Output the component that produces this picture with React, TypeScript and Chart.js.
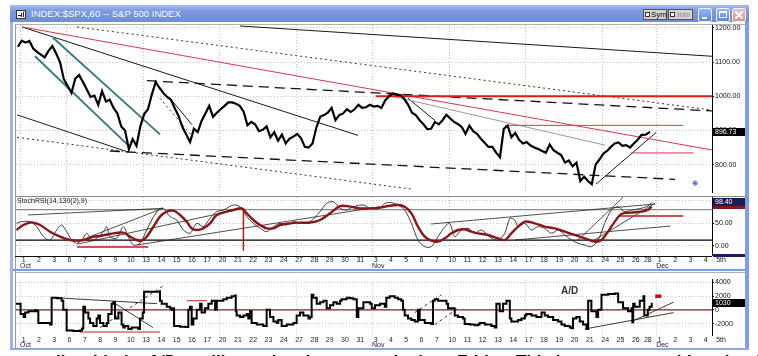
import React, { useEffect, useRef } from "react";
import { Chart, registerables } from "chart.js";

Chart.register(...registerables);

const FONT = '"Liberation Sans", Arial, Helvetica, sans-serif';

// ---------- time axis (trading sessions Oct 1 – Nov 28 2008, then empty Dec days) ----------
const dayLabels = ["1","2","3","6","7","8","9","10","13","14","15","16","17","20","21","22","23","24","27","28","29","30","31","3","4","5","6","7","10","11","12","13","14","17","18","19","20","21","24","25","26","28","1","2","3","4","5th"];
const monthNames = ["Oct", "Nov", "Dec"];
const monthStartIndex = [0, 23, 42];
const fullSessionHours = 7;
const halfSessionIndex = 41; // Nov 28 half session
const halfSessionHours = 4;
const weeklyGridDays = [0, 3, 8, 13, 18, 23, 28, 33, 38, 42];
const lastVisibleDay = 45.91;
const tradedDays = 42;

// ---------- price (S&P 500, 60 min) : 4 readings per session, 2 on the half session ----------
const priceClose = [
  1145, 1163, 1157, 1162,
  1140, 1130, 1122, 1114,
  1133, 1147, 1125, 1100,
  1050, 1030, 1010, 1052,
  1062, 1042, 1020, 998,
  1002, 975, 1015, 985,
  990, 966, 950, 912,
  900, 845, 875, 855,
  912, 948, 962, 1005,
  1042, 1025, 1010, 998,
  990, 965, 942, 910,
  888, 866, 905, 895,
  928, 950, 972, 940,
  952, 962, 972, 982,
  982, 978, 972, 955,
  915, 925, 918, 898,
  902, 912, 880, 895,
  870, 888, 862, 876,
  882, 890, 878, 852,
  850, 862, 908, 940,
  945, 952, 966, 930,
  945, 950, 962, 954,
  962, 975, 966, 968,
  975, 970, 972, 966,
  988, 1000, 1008, 1005,
  1003, 992, 975, 952,
  945, 930, 918, 904,
  905, 925, 918, 930,
  946, 935, 925, 919,
  910, 890, 914, 898,
  890, 876, 864, 852,
  852, 835, 822, 905,
  914, 880, 893, 873,
  862, 866, 856, 850,
  846, 840, 835, 859,
  842, 835, 828, 806,
  812, 795, 806, 752,
  765, 752, 743, 800,
  815, 832, 840, 852,
  862, 865, 855, 857,
  850, 862, 873, 887,
  888, 896,
];
const priceReadingsPerSession = 4;
const priceReadingsHalfSession = 2;
const priceTicks = [800, 900, 1000, 1100, 1200];
const priceMin = 720;
const priceMax = 1208.6;
const lastPrice = 896.73;

// trendlines on price panel: [day1, price1, day2, price2]
const priceBlackLines = [
  [14.64, 1205.7, 45.92, 1117.1],
  [0.39, 1202.9, 22.35, 885.7],
  [0.07, 945.7, 7.32, 837.1],
  [37.9, 742.9, 42.26, 894.3],
  [25.62, 994.3, 27.39, 928.6],
  [10.07, 994, 11.5, 917],
];
const priceRedLines = [
  [0.39, 1202.9, 45.92, 842.9],
  [31.96, 915, 44.03, 915],
  [40.2, 834.3, 44.7, 834.3],
];
const priceRedLevel = [[23.5, 1000, 45.92, 1000]];
const priceGrayLines = [[24.31, 1002.9, 38.5, 857]];
const priceDashedLines = [
  [8.56, 1045.7, 45.92, 957.1],
  [6.14, 840, 43.5, 757],
];
const priceDottedLines = [
  [3.99, 1202.9, 45.85, 960],
  [0.07, 880, 25.82, 728.6],
  [9.41, 994, 11.57, 880],
];
const priceChannelLines = [
  [2.42, 1171.4, 9.41, 888.6],
  [1.24, 1117.1, 7.32, 857.1],
];
const priceStar = [44.81, 745.7];

// ---------- StochRSI(14,130(2),9) ----------
const stochSlowDays = [0.04,0.48,1.02,1.57,2.22,2.88,3.53,4.07,4.62,5.05,5.49,6.14,7.01,7.45,7.89,8.21,8.54,8.98,9.41,9.85,10.28,10.72,11.15,11.48,11.81,12.24,12.68,13.12,13.77,14.2,14.75,15.08,15.51,15.95,16.38,16.82,17.25,17.91,18.56,19.22,19.87,20.52,21.18,21.83,22.48,23.14,23.79,24.31,24.97,25.4,25.84,26.27,26.71,27.14,27.58,28.02,28.45,28.89,29.32,29.76,30.19,30.85,31.5,31.94,32.37,32.81,33.25,33.9,34.55,35.21,35.86,36.51,37.17,37.82,38.26,38.69,39.13,39.56,40.22,40.87,41.5,41.95];
const stochSlowValues = [35.3,46.3,52.2,46.3,31.6,20.6,13.2,11.8,14.7,20.6,22.1,26.5,29.4,20.6,13.2,11.8,20.6,42.7,64.7,75.7,77.9,68.4,53.7,39.0,35.3,39.0,50.0,68.4,75.7,79.4,83.1,72.1,57.4,46.3,39.0,39.0,46.3,50.0,51.5,51.5,57.4,72.1,88.2,86.8,83.1,83.1,84.6,88.2,90.4,86.8,72.1,42.7,20.6,11.8,9.6,16.9,27.9,35.3,36.8,31.6,27.9,24.3,16.9,13.2,27.9,42.7,53.7,50.0,42.7,39.0,31.6,24.3,16.9,9.6,13.2,31.6,53.7,70.6,73.5,75.7,79.4,86.8];
const stochFastDays = [0.04,0.37,0.92,1.35,1.79,2.22,2.66,2.98,3.31,3.64,3.97,4.29,4.62,4.95,5.27,5.71,5.93,6.14,6.58,7.01,7.34,7.67,8.1,8.54,8.87,9.3,9.63,10.07,10.5,10.94,11.37,11.81,12.24,12.68,13.12,13.55,14.2,14.64,15.08,15.51,15.95,16.38,16.82,17.25,17.69,18.13,18.56,19.22,19.87,20.3,20.74,21.18,21.61,22.05,22.7,23.14,23.79,24.1,24.53,24.97,25.4,25.84,26.27,26.71,27.14,27.58,28.02,28.34,28.67,29.1,29.54,29.98,30.41,31.07,31.5,31.94,32.27,32.59,32.81,33.25,33.68,34.12,34.55,34.99,35.42,35.86,36.3,36.73,37.17,37.6,38.04,38.47,38.91,39.35,39.78,40.22,40.87,41.5,41.95];
const stochFastValues = [50.0,53.7,53.7,42.7,20.6,13.2,35.3,46.3,31.6,13.2,5.9,13.2,27.9,13.2,16.9,31.6,42.7,20.6,16.9,42.7,20.6,2.2,5.9,35.3,57.4,79.4,83.1,64.7,57.4,35.3,27.9,50.0,42.7,61.0,75.7,79.4,90.4,86.8,64.7,50.0,39.0,31.6,42.7,50.0,46.3,53.7,50.0,53.7,75.7,94.1,97.8,83.1,79.4,86.8,90.4,83.1,83.1,94.1,95.6,90.4,79.4,50.0,13.2,-1.5,-1.5,20.6,42.7,50.0,20.6,35.3,39.0,27.9,35.3,16.9,13.2,27.9,61.0,57.4,42.7,50.0,35.3,42.7,39.0,27.9,35.3,24.3,13.2,5.9,2.2,-1.5,13.2,50.0,79.4,86.8,75.7,79.4,83.1,88.2,96.0];
const stochTicks = [0, 50, 100];
const stochLevels = [80, 13];
const stochMin = -19.9;
const stochMax = 108.1;
const lastStoch = 98.4;
const stochBlackLines = [
  [0.78, 68.4, 9.61, 83.2],
  [3.99, 9.5, 9.61, 83.2],
  [4.0, 4, 14.86, 83],
  [7.91, 2.2, 23.79, 86.7],
  [27.12, 48.5, 42.2, 92.7],
  [32.61, 13.2, 43.2, 44.1],
  [36.73, 13.2, 39.67, 107.4],
  [37.82, 13.2, 42.17, 94.2],
];
const stochRedLines = [
  [3.99, -2.2, 8.63, -2.2],
  [14.86, 83.8, 14.86, -10.4],
  [39.35, 66.2, 44.03, 66.2],
];

// ---------- A/D ----------
const adDays = [0.0,0.3,0.5,0.6,0.81,1.24,1.35,1.46,2.0,2.22,2.33,2.66,2.98,3.09,3.31,3.75,4.18,4.31,4.4,4.51,4.73,4.84,5.05,5.27,5.38,5.49,5.71,5.93,6.03,6.25,6.36,6.47,6.69,6.9,7.01,7.12,7.34,7.56,7.89,7.99,8.1,8.28,8.37,8.76,9.19,9.37,9.41,9.52,9.85,10.07,10.17,10.28,10.33,10.72,11.05,11.26,11.37,11.48,11.59,11.81,12.03,12.13,12.35,12.57,12.79,13.01,13.12,13.33,13.55,13.77,14.09,14.31,14.36,14.42,14.64,14.86,15.08,15.18,15.29,15.4,15.73,16.16,16.38,16.6,16.82,17.04,17.14,17.36,17.69,18.13,18.34,18.56,18.78,19.11,19.22,19.32,19.43,19.65,19.87,20.09,20.3,20.52,20.74,20.96,21.18,21.28,21.61,21.83,22.05,22.27,22.37,22.7,23.03,23.14,23.25,23.46,23.79,24.1,24.2,24.42,24.75,24.97,25.18,25.29,25.4,25.62,25.84,26.06,26.27,26.38,26.71,27.14,27.25,27.36,27.58,27.91,28.13,28.23,28.67,28.89,29.21,29.32,29.65,29.98,30.19,30.3,30.63,31.07,31.28,31.39,31.61,31.83,32.05,32.27,32.37,32.81,33.03,33.25,33.35,33.68,34.01,34.34,34.55,34.77,35.1,35.42,35.64,35.86,36.19,36.3,36.4,36.62,36.84,37.06,37.28,37.39,37.6,37.93,38.04,38.26,38.37,38.69,39.13,39.35,39.67,40.0,40.22,40.28,40.33,40.43,40.76,41.0,41.1,41.5,41.7,41.95];
const adValues = [900,-610,-1040,-390,-174,-44,-174,-1914,-1914,-2132,1784,1697,1348,44,-3001,-3088,-3001,-2697,478,-392,-1262,-1914,-2349,-1262,-826,-1914,-2349,-1914,-609,914,1131,-1262,-392,-2132,-2566,-2349,-2784,-2566,-2566,-2784,-1262,-392,2654,2654,2654,2741,1348,914,479,261,44,261,-2349,-2436,-2479,44,479,-2132,-1262,44,914,-392,261,914,1348,44,1348,1348,1566,1784,2001,2088,-174,-826,-1044,-826,-609,-1262,-174,-1914,-2132,-2349,44,-1044,-1697,-1914,-1479,-2349,-2132,-1914,-826,-392,-826,-1262,-1044,2218,1784,914,1131,1348,261,696,1131,914,1348,1566,1784,1697,1566,-1044,261,1131,1131,914,261,696,914,479,1784,2001,1784,1566,1348,44,-826,-1262,-1479,-1697,44,-1479,-1914,-2045,1348,1566,1348,1348,914,261,-826,-1044,-1262,-2045,-2132,-2220,-2132,-1914,-2132,-2349,-2566,914,-174,914,1348,-1262,-1697,-1479,-1262,-826,-609,-826,-1044,-392,-826,-1044,-1479,-1697,-2132,-2349,-2566,-2653,-1262,-1044,-1697,-2132,-2784,1348,-174,-1044,44,2218,2218,2305,2392,1131,261,-174,261,-1800,914,479,1348,2001,-826,44,479,1030];
const adTicks = [-2000, 0, 2000, 4000];
const adMin = -3654;
const adMax = 4437;
const lastAD = 1030;
const adBlackLines = [
  [2.55, 1788, 9.22, 914],
  [6.34, 1135, 8.95, -2571],
  [37.17, -2780, 43.4, -392],
  [40.22, -1697, 43.4, 1135],
];
const adDashedLines = [
  [5.49, -2571, 9.63, 3524],
  [26.06, -392, 27.8, 2219],
  [27.37, -2127, 28.89, 261],
];
const adRedLines = [
  [4.18, -3223, 9.41, -3223],
  [11.18, 1344, 12.48, 1344],
];
const adMarker = [42.4, 2000];

// ---------- helpers ----------
const dayHours = dayLabels.map((_, i) => (i === halfSessionIndex ? halfSessionHours : fullSessionHours));
const dayStart: number[] = [];
dayHours.reduce((acc, h, i) => { dayStart[i] = acc; return acc + h; }, 0);

function dayToHours(d: number) {
  let i = Math.floor(d);
  if (i < 0) i = 0;
  if (i > dayLabels.length - 1) i = dayLabels.length - 1;
  return dayStart[i] + (d - i) * dayHours[i];
}
const X_MAX = dayToHours(lastVisibleDay);

function pricePoints() {
  const pts: any[] = [];
  let p = 0;
  for (let i = 0; i < tradedDays; i++) {
    const n = i === halfSessionIndex ? priceReadingsHalfSession : priceReadingsPerSession;
    for (let k = 0; k < n && p < priceClose.length; k++) {
      pts.push({ x: dayStart[i] + ((k + 0.5) * dayHours[i]) / n, y: priceClose[p++] });
    }
  }
  return pts;
}
function zipPoints(days: number[], vals: number[]) {
  const n = Math.min(days.length, vals.length);
  const out: any[] = [];
  for (let i = 0; i < n; i++) out.push({ x: dayToHours(days[i]), y: vals[i] });
  return out;
}
function segs(list: number[][], color: string, width: number, dash: number[] = []) {
  return list.map((s) => ({
    data: [{ x: dayToHours(s[0]), y: s[1] }, { x: dayToHours(s[2]), y: s[3] }],
    borderColor: color,
    borderWidth: width,
    borderDash: dash,
    pointRadius: 0,
    fill: false,
    order: 5,
  }));
}
function levels(vals: number[], colors: string[], widths: number[]) {
  return vals.map((v, i) => ({
    data: [{ x: 0, y: v }, { x: X_MAX + 10, y: v }],
    borderColor: colors[i],
    borderWidth: widths[i],
    pointRadius: 0,
    fill: false,
    order: 6,
  }));
}

const dateRowPlugin = {
  id: "dateRow",
  afterDraw(chart: any, _a: any, opts: any) {
    if (!opts || !opts.show) return;
    const xs = chart.scales.x;
    const ca = chart.chartArea;
    const ctx = chart.ctx;
    ctx.save();
    ctx.font = `7px ${FONT}`;
    ctx.fillStyle = "#222";
    ctx.textBaseline = "middle";
    ctx.textAlign = "center";
    dayLabels.forEach((lab, i) => {
      ctx.fillText(lab, xs.getPixelForValue(dayStart[i] + dayHours[i] / 2), ca.bottom + opts.dy);
    });
    ctx.textAlign = "left";
    monthNames.forEach((m, j) => {
      ctx.fillText(m, xs.getPixelForValue(dayStart[monthStartIndex[j]]) + 4, ca.bottom + opts.dy + opts.monthDy);
    });
    ctx.restore();
  },
};

const valueBoxPlugin = {
  id: "valueBox",
  afterDraw(chart: any, _a: any, opts: any) {
    if (!opts || opts.text == null) return;
    const ys = chart.scales.y;
    const ca = chart.chartArea;
    const ctx = chart.ctx;
    const h = 8;
    let y = ys.getPixelForValue(opts.value);
    y = Math.max(ca.top + h / 2 + 1, Math.min(ca.bottom - h / 2, y));
    const x0 = ca.right + 1;
    const w = opts.right - x0;
    ctx.save();
    ctx.fillStyle = opts.bg;
    ctx.fillRect(x0, Math.round(y - h / 2), w, h);
    if (opts.under) {
      ctx.fillStyle = opts.under;
      ctx.fillRect(x0, Math.round(y + h / 2), w, 3);
    }
    ctx.fillStyle = "#fff";
    ctx.font = `7px ${FONT}`;
    ctx.textAlign = "left";
    ctx.textBaseline = "middle";
    ctx.fillText(opts.text, x0 + 2, Math.round(y) + 0.5);
    ctx.restore();
  },
};

function xScale() {
  return {
    type: "linear",
    min: 0,
    max: X_MAX,
    offset: false,
    afterBuildTicks: (s: any) => {
      s.ticks = weeklyGridDays.map((d) => ({ value: dayToHours(d + 0.3) }));
    },
    afterFit: (s: any) => {
      s.height = 0;
      s.paddingLeft = 0;
      s.paddingRight = 0;
    },
    ticks: { display: false },
    grid: { color: "#c2c2c2", lineWidth: 1, drawTicks: false },
    border: { display: false, dash: [1, 2] },
  };
}
function yScale(min: number, max: number, ticks: number[], fmt: (v: number) => string) {
  return {
    position: "right",
    min,
    max,
    afterBuildTicks: (s: any) => {
      s.ticks = ticks.map((v) => ({ value: v }));
    },
    afterFit: (s: any) => {
      s.width = 33;
      s.paddingTop = 0;
      s.paddingBottom = 0;
    },
    ticks: { callback: (v: any) => fmt(Number(v)), font: { size: 7, family: FONT }, color: "#111", padding: 1 },
    grid: { color: "#c2c2c2", drawTicks: true, tickLength: 2, tickColor: "#000" },
    border: { display: true, color: "#000", width: 1, dash: [1, 2] },
  };
}
function baseOptions(padTop: number, padBottom: number) {
  return {
    responsive: false,
    maintainAspectRatio: false,
    animation: false,
    devicePixelRatio: 1,
    events: [],
    layout: { padding: { left: 16, right: 13, top: padTop, bottom: padBottom } },
    elements: { point: { radius: 0 }, line: { tension: 0 } },
  };
}

function priceConfig() {
  const datasets: any[] = [
    { data: pricePoints(), borderColor: "#000", borderWidth: 2.2, pointRadius: 0, fill: false, order: 0 },
    {
      data: [{ x: dayToHours(priceStar[0]), y: priceStar[1] }],
      showLine: false, pointStyle: "star", pointRadius: 3, borderColor: "#4a62d8", borderWidth: 1, order: 1,
    },
    ...segs(priceChannelLines, "#3b7b88", 2),
    ...segs(priceRedLevel, "#e11919", 2),
    ...segs(priceRedLines, "#d9364f", 1),
    ...segs(priceGrayLines, "#9a9a9a", 1),
    ...segs(priceBlackLines, "#1a1a1a", 1),
    ...segs(priceDashedLines, "#111", 1.3, [10, 6]),
    ...segs(priceDottedLines, "#333", 1, [2, 3]),
  ];
  return {
    type: "line",
    data: { datasets },
    options: {
      ...baseOptions(25, 1),
      scales: {
        x: xScale(),
        y: yScale(priceMin, priceMax, priceTicks, (v) => v.toFixed(2)),
      },
      plugins: {
        legend: { display: false },
        tooltip: { enabled: false },
        valueBox: { value: lastPrice, text: lastPrice.toFixed(2), bg: "#000", right: 745 },
        dateRow: { show: false },
      },
    },
    plugins: [dateRowPlugin, valueBoxPlugin],
  };
}

function stochConfig() {
  const datasets: any[] = [
    { data: zipPoints(stochSlowDays, stochSlowValues), borderColor: "#8a1616", borderWidth: 2.4, pointRadius: 0, fill: false, order: 0, tension: 0.35 },
    { data: zipPoints(stochFastDays, stochFastValues), borderColor: "#2a2a2a", borderWidth: 0.9, pointRadius: 0, fill: false, order: 1, tension: 0.3 },
    ...segs(stochRedLines, "#c01818", 1.5),
    ...segs(stochBlackLines, "#222", 0.8),
    ...levels(stochLevels, ["#6e6e6e", "#000"], [1, 1.2]),
  ];
  return {
    type: "line",
    data: { datasets },
    options: {
      ...baseOptions(1, 17),
      scales: {
        x: xScale(),
        y: yScale(stochMin, stochMax, stochTicks, (v) => v.toFixed(2)),
      },
      plugins: {
        legend: { display: false },
        tooltip: { enabled: false },
        valueBox: { value: lastStoch, text: lastStoch.toFixed(2), bg: "#1c1c55", under: "#8a1616", right: 745 },
        dateRow: { show: true, dy: 5, monthDy: 6 },
      },
    },
    plugins: [dateRowPlugin, valueBoxPlugin],
  };
}

function adConfig() {
  const datasets: any[] = [
    { data: zipPoints(adDays, adValues), borderColor: "#000", borderWidth: 2, stepped: true, pointRadius: 0, fill: false, order: 0 },
    {
      data: [{ x: dayToHours(adMarker[0]), y: adMarker[1] }],
      showLine: false, pointStyle: "line", pointRadius: 3, borderColor: "#e00000", borderWidth: 3.5, order: 1,
    },
    ...segs(adRedLines, "#c81e1e", 1),
    ...segs(adBlackLines, "#222", 0.9),
    ...segs(adDashedLines, "#222", 0.9, [3, 3]),
    ...levels([0], ["#8b2323"], [1.2]),
  ];
  return {
    type: "line",
    data: { datasets },
    options: {
      ...baseOptions(1, 21),
      scales: {
        x: xScale(),
        y: yScale(adMin, adMax, adTicks, (v) => String(v)),
      },
      plugins: {
        legend: { display: false },
        tooltip: { enabled: false },
        valueBox: { value: lastAD, text: String(lastAD), bg: "#000", right: 745 },
        dateRow: { show: true, dy: 5, monthDy: 5 },
      },
    },
    plugins: [dateRowPlugin, valueBoxPlugin],
  };
}

function ChartCanvas({ top, height, build }: { top: number; height: number; build: () => any }) {
  const ref = useRef<HTMLCanvasElement | null>(null);
  useEffect(() => {
    if (!ref.current) return;
    const chart = new Chart(ref.current, build());
    return () => chart.destroy();
  }, []);
  return (
    <canvas
      ref={ref}
      width={758}
      height={height}
      style={{ position: "absolute", left: 0, top, width: 758, height, display: "block" }}
    />
  );
}

const abs = (s: any) => ({ position: "absolute", ...s });

export default function App() {
  return (
    <div style={abs({ left: 0, top: 0, width: 758, height: 356, background: "#fff", overflow: "hidden", fontFamily: FONT })}>
      {/* window frame */}
      <div style={abs({ left: 10, top: 5, width: 3, height: 345, background: "#9fb5ea" })} />
      <div style={abs({ left: 745, top: 5, width: 4, height: 345, background: "#7e9de4" })} />
      <div style={abs({ left: 10, top: 348, width: 739, height: 2, background: "#8ea8e6" })} />
      <div style={abs({ left: 15, top: 24, width: 1, height: 324, background: "#9a9a9a" })} />
      <div style={abs({ left: 15, top: 24, width: 731, height: 1, background: "#b0b0b0" })} />
      <div style={abs({ left: 15, top: 196, width: 731, height: 1, background: "#8a8a8a" })} />
      <div style={abs({ left: 15, top: 256, width: 697, height: 1, background: "#111" })} />
      <div style={abs({ left: 713, top: 254, width: 32, height: 3, background: "#1c1c6c" })} />
      <div style={abs({ left: 13, top: 269, width: 733, height: 2, background: "#7d9ce6" })} />
      <div style={abs({ left: 15, top: 272, width: 731, height: 1, background: "#b0b0b0" })} />

      {/* title bar */}
      <div style={abs({ left: 10, top: 5, width: 739, height: 17, background: "linear-gradient(#a6bcef, #7d9ade 35%, #6e8dd8)" })} />
      <div style={abs({ left: 16, top: 10, width: 10, height: 9, background: "#f2f2f2", border: "1px solid #333", boxSizing: "border-box" })}>
        <div style={abs({ left: 1, top: 4, width: 3, height: 1, background: "#222" })} />
        <div style={abs({ left: 4, top: 2, width: 1, height: 4, background: "#222" })} />
        <div style={abs({ left: 6, top: 1, width: 1, height: 5, background: "#222" })} />
      </div>
      <div style={abs({ left: 31, top: 8, fontSize: 9.5, lineHeight: "12px", color: "#f4f7ff", whiteSpace: "nowrap" })}>
        INDEX:$SPX,60 -- S&amp;P 500 INDEX
      </div>
      <div style={abs({ left: 643, top: 9, width: 24, height: 11, background: "#d6d3ce", border: "1px solid #555", boxSizing: "border-box" })}>
        <div style={abs({ left: 1, top: 2, width: 5, height: 5, background: "#fff", border: "1px solid #333", boxSizing: "border-box" })} />
        <div style={abs({ left: 7, top: 0, fontSize: 8, lineHeight: "9px", color: "#111" })}>Sym</div>
      </div>
      <div style={abs({ left: 668, top: 9, width: 25, height: 11, background: "#d6d3ce", border: "1px solid #555", boxSizing: "border-box" })}>
        <div style={abs({ left: 1, top: 2, width: 5, height: 5, background: "#fff", border: "1px solid #333", boxSizing: "border-box" })} />
        <div style={abs({ left: 8, top: 0, fontSize: 8, lineHeight: "9px", color: "#8a8a8a" })}>Intv</div>
      </div>
      <div style={abs({ left: 698, top: 8, width: 14, height: 14, background: "linear-gradient(#9ab6f5, #5f84e4)", border: "1px solid #eef2ff", boxSizing: "border-box", borderRadius: 2 })}>
        <div style={abs({ left: 3, top: 8, width: 5, height: 2, background: "#fff" })} />
      </div>
      <div style={abs({ left: 716, top: 8, width: 14, height: 14, background: "linear-gradient(#9ab6f5, #5f84e4)", border: "1px solid #eef2ff", boxSizing: "border-box", borderRadius: 2 })}>
        <div style={abs({ left: 2, top: 2, width: 8, height: 7, border: "1px solid #fff", borderTopWidth: 2, boxSizing: "border-box" })} />
      </div>
      <div style={abs({ left: 732, top: 8, width: 14, height: 14, background: "linear-gradient(#ecc2c8, #cf9099)", border: "1px solid #f6eef0", boxSizing: "border-box", borderRadius: 2 })}>
        <div style={abs({ left: 1, top: 5, width: 10, height: 2, background: "#fff", transform: "rotate(45deg)" })} />
        <div style={abs({ left: 1, top: 5, width: 10, height: 2, background: "#fff", transform: "rotate(-45deg)" })} />
      </div>

      {/* charts */}
      <ChartCanvas top={0} height={197} build={priceConfig} />
      <ChartCanvas top={196} height={76} build={stochConfig} />
      <ChartCanvas top={272} height={84} build={adConfig} />

      {/* panel labels */}
      <div style={abs({ left: 17, top: 197, fontSize: 7, lineHeight: "8px", color: "#111", whiteSpace: "nowrap" })}>
        StochRSI(14,130(2),9)
      </div>
      <div style={abs({ left: 561, top: 285, fontSize: 10, fontWeight: "bold", lineHeight: "11px", color: "#333" })}>A/D</div>

      {/* caption text (cut off by the page edge) */}
      <div style={abs({ left: 40, top: 353, fontSize: 17, fontWeight: "bold", lineHeight: "17px", color: "#000", whiteSpace: "nowrap" })}>
        rally with the A/D oscillator showing strength since Friday. This is a strong positive sign for the
      </div>
    </div>
  );
}
